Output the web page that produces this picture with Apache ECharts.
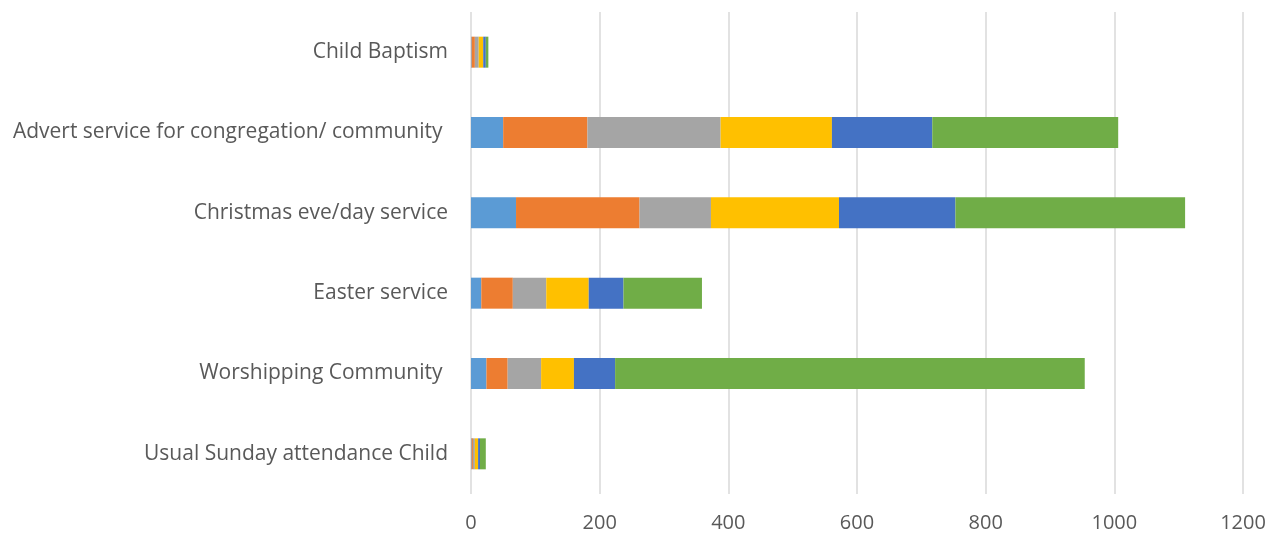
<!DOCTYPE html>
<html>
<head>
<meta charset="utf-8">
<script src="https://cdn.jsdelivr.net/npm/echarts@6/dist/echarts.min.js"></script>
<style>
html,body{margin:0;padding:0;background:#fff;}
#chart{width:1284px;height:541px;}
</style>
</head>
<body>
<div id="chart"></div>
<script>
// Categories listed bottom to top (ECharts category axis starts at the bottom)
var categories = [
  "Usual Sunday attendance Child",
  "Worshipping Community ",
  "Easter service",
  "Christmas eve/day service",
  "Advert service for congregation/ community ",
  "Child Baptism"
];
var seriesNames = ["Series 1", "Series 2", "Series 3", "Series 4", "Series 5", "Series 6"];
var series1 = [1, 24, 16, 70, 50, 1];
var series2 = [2, 33, 49, 192, 131, 5];
var series3 = [3, 52, 52, 111, 207, 6];
var series4 = [5, 51, 66, 199, 173, 7];
var series5 = [3, 64, 54, 181, 156, 4];
var series6 = [9, 730, 122, 357, 289, 4];
var xTicks = [0, 200, 400, 600, 800, 1000, 1200];

var colors = ["#5b9bd5", "#ed7d31", "#a5a5a5", "#ffc000", "#4472c4", "#70ad47"];
var allData = [series1, series2, series3, series4, series5, series6];

var chart = echarts.init(document.getElementById('chart'));
chart.setOption({
  animation: false,
  backgroundColor: '#ffffff',
  grid: { left: 471, right: 41, top: 12, bottom: 47, containLabel: false },
  xAxis: {
    type: 'value',
    min: xTicks[0],
    max: xTicks[xTicks.length - 1],
    interval: 200,
    axisLine: { show: false },
    axisTick: { show: false },
    splitLine: { show: true, lineStyle: { color: '#d9d9d9', width: 1.5 } },
    axisLabel: {
      color: '#595959', fontSize: 20, fontFamily: 'Open Sans', margin: 19,
      formatter: function (v) { return String(v); }
    }
  },
  yAxis: {
    type: 'category',
    data: categories,
    axisLine: { show: false },
    axisTick: { show: false },
    splitLine: { show: false },
    axisLabel: { color: '#595959', fontSize: 21, fontFamily: 'Open Sans', margin: 23, padding: [4, 0, 0, 0] }
  },
  series: allData.map(function (d, i) {
    return {
      name: seriesNames[i],
      type: 'bar',
      stack: 'total',
      data: d,
      barWidth: 31,
      itemStyle: { color: colors[i] }
    };
  })
});
</script>
</body>
</html>
